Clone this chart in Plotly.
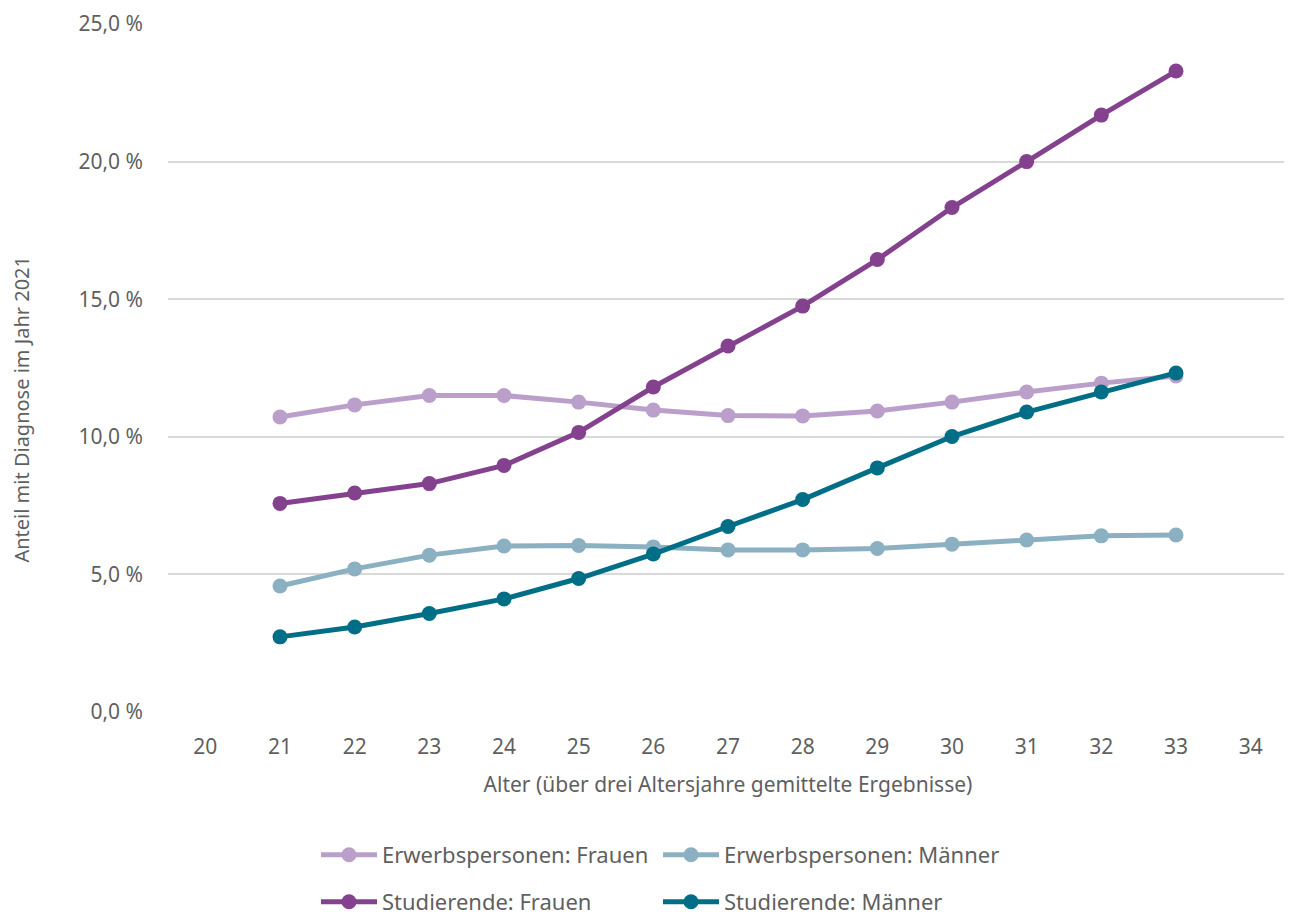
import plotly.graph_objects as go

ages = [str(a) for a in range(20, 35)]
data_ages = [str(a) for a in range(21, 34)]

erw_frauen = [10.72, 11.16, 11.50, 11.50, 11.26, 10.97, 10.77, 10.76, 10.94, 11.26, 11.63, 11.95, 12.21]
erw_maenner = [4.58, 5.20, 5.70, 6.03, 6.05, 6.00, 5.89, 5.89, 5.94, 6.10, 6.25, 6.40, 6.43]
stud_frauen = [7.58, 7.96, 8.30, 8.96, 10.16, 11.81, 13.30, 14.75, 16.44, 18.33, 20.00, 21.69, 23.29]
stud_maenner = [2.73, 3.09, 3.58, 4.11, 4.85, 5.74, 6.74, 7.72, 8.87, 10.01, 10.90, 11.63, 12.32]

series = [
    ("Erwerbspersonen: Frauen", erw_frauen, "#BB9FCB", "legend"),
    ("Erwerbspersonen: Männer", erw_maenner, "#8BB0C2", "legend"),
    ("Studierende: Frauen", stud_frauen, "#84418E", "legend2"),
    ("Studierende: Männer", stud_maenner, "#006E87", "legend2"),
]

y_ticks = [0, 5, 10, 15, 20, 25]
y_ticktext = ["0,0 %", "5,0 %", "10,0 %", "15,0 %", "20,0 %", "25,0 %"]

FONT = "Noto Sans"
GRAY = "#5f5f5f"
FS = 21
H = 915
OFF = 8  # page body margin offset

fig = go.Figure()
for name, vals, col, lg in series:
    fig.add_trace(go.Scatter(
        x=data_ages, y=vals, name=name, mode="lines+markers",
        line=dict(color=col, width=5),
        marker=dict(color=col, size=15),
        legend=lg,
    ))

legend_common = dict(
    orientation="h", xref="container", yref="container",
    x=(323 - OFF - 7) / 1292, xanchor="left", yanchor="middle",
    entrywidth=271, font=dict(size=22, color=GRAY),
    itemwidth=56, bgcolor="rgba(0,0,0,0)",
)

fig.update_layout(
    width=1292, height=H,
    paper_bgcolor="white", plot_bgcolor="white",
    margin=dict(l=160, r=12, t=16, b=211, autoexpand=False),
    font=dict(family=FONT, color=GRAY, size=FS),
    showlegend=True,
    legend=dict(legend_common, y=1 - (855 - OFF) / H),
    legend2=dict(legend_common, y=1 - (902 - OFF) / H),
    xaxis=dict(
        type="category", categoryorder="array", categoryarray=ages,
        range=[-0.5, 14.5], showgrid=False, showline=False, zeroline=False,
        tickfont=dict(size=FS, color=GRAY), ticks="", ticklabelstandoff=20,
        automargin=False,
        title=dict(text="Alter (über drei Altersjahre gemittelte Ergebnisse)",
                   font=dict(size=FS, color=GRAY), standoff=18),
    ),
    yaxis=dict(
        range=[0, 25], tickvals=y_ticks, ticktext=y_ticktext,
        showgrid=True, gridcolor="#D9D9D9", gridwidth=2,
        zeroline=False, showline=False, ticks="", automargin=False,
        tickfont=dict(size=FS, color=GRAY), ticklabelstandoff=24,
    ),
    annotations=[dict(
        text="Anteil mit Diagnose im Jahr 2021", textangle=-90,
        xref="paper", yref="paper", x=-0.131, y=0.44, xanchor="center", yanchor="middle",
        showarrow=False, font=dict(size=FS - 1, color=GRAY),
    )],
)
fig.write_html("out.html")
